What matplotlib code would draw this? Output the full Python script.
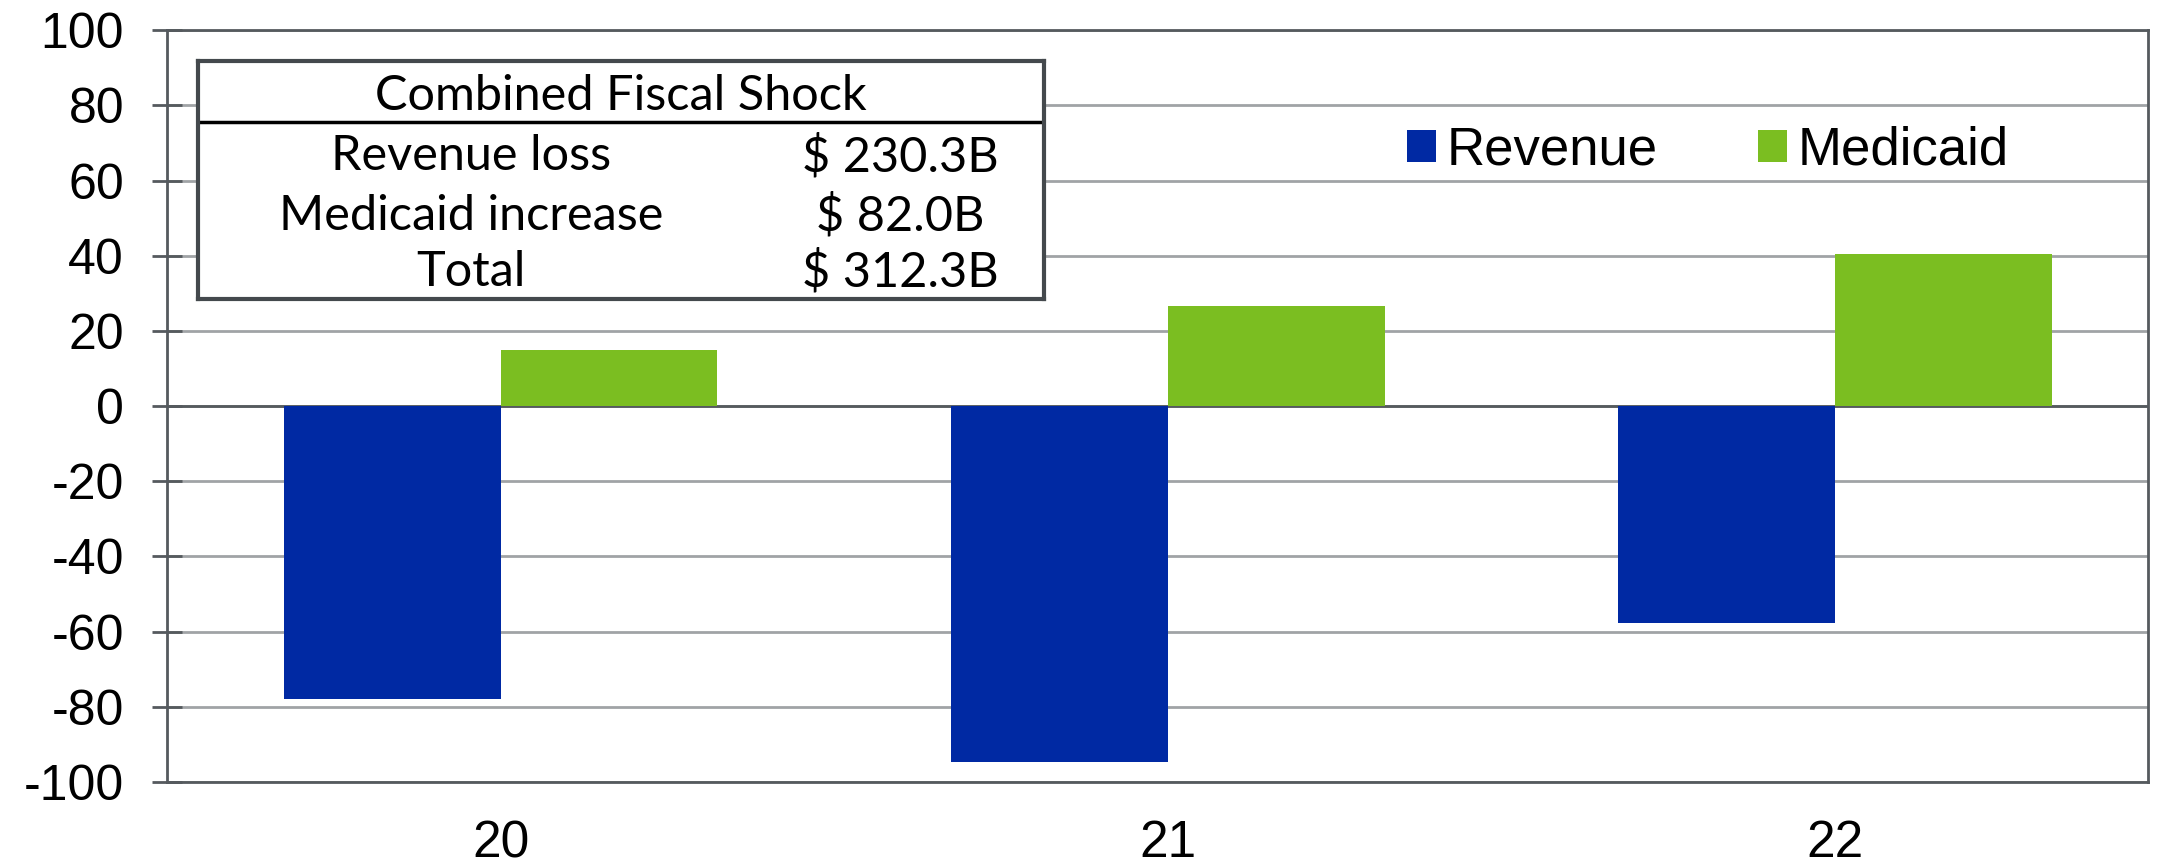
import numpy as np
import matplotlib
matplotlib.use("Agg")
from matplotlib import pyplot as plt

# ====
# chart data
years = ["20", "21", "22"]
revenue = [-77.8, -94.8, -57.7]
medicaid = [15.0, 26.6, 40.4]

table_title = "Combined Fiscal Shock"
table_rows = ["Revenue loss", "Medicaid increase", "Total"]
table_vals = ["$ 230.3B", "$ 82.0B", "$ 312.3B"]

blue = "#0029A3"
green = "#7BBE21"

plt.rcParams["font.family"] = ["Liberation Sans", "DejaVu Sans"]
plt.rcParams["axes.unicode_minus"] = False

fig = plt.figure(figsize=(21.7, 8.65), dpi=100)
ax = fig.add_axes([0.077, 0.096, 0.913, 0.869])

x = np.arange(len(years))
w = 0.325
ax.bar(x - w / 2, revenue, w, color=blue, label="Revenue", zorder=3)
ax.bar(x + w / 2, medicaid, w, color=green, label="Medicaid", zorder=3)

ax.set_xlim(-0.5, 2.47)
ax.set_ylim(-100, 100)
ax.set_yticks(np.arange(-100, 101, 20))
ax.set_xticks(x)
ax.set_xticklabels(years)

ax.grid(axis="y", color="#a0a3a6", linewidth=2, zorder=0)
ax.axhline(0, color="#555a5e", linewidth=2, zorder=2)
for s in ax.spines.values():
    s.set_color("#555a5e")
    s.set_linewidth(2)

ax.tick_params(axis="y", direction="inout", length=22, width=2, color="#555a5e",
               labelsize=36, pad=20)
ax.tick_params(axis="x", length=0, labelsize=37, pad=27)

# legend
ax.legend(loc="center left", bbox_to_anchor=(0.626, 0.84), ncol=2, frameon=False,
          fontsize=38, handlelength=0.55, handleheight=0.55, handletextpad=0.2,
          columnspacing=1.9, borderaxespad=0, borderpad=0)

# ====
# table box in the top-left corner
tab = fig.add_axes([0.0912, 0.6543, 0.390, 0.275])
tab.set_xticks([])
tab.set_yticks([])
tab.set_xlim(0, 1)
tab.set_ylim(0, 1)
for s in tab.spines.values():
    s.set_color("#44494d")
    s.set_linewidth(3)

tfont = ["Lato", "DejaVu Sans"]
tab.text(0.5, 0.855, table_title, ha="center", va="center", fontsize=35, family=tfont)
tab.axhline(0.744, color="black", linewidth=2.5)
row_y = [0.6, 0.35, 0.115]
for yy, name, val in zip(row_y, table_rows, table_vals):
    tab.text(0.323, yy, name, ha="center", va="center", fontsize=35, family=tfont)
    tab.text(0.83, yy, val, ha="center", va="center", fontsize=35, family=tfont)

fig.savefig("out.png", dpi=100)
